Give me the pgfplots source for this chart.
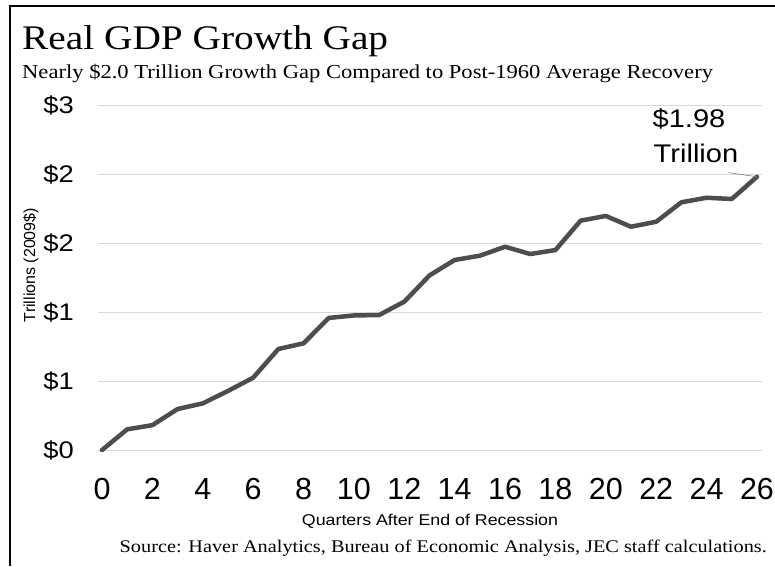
\documentclass[border=0pt]{standalone}
\usepackage{fontspec}
\setmainfont{Liberation Sans}[FakeStretch=1.14]
\newfontfamily\serif{Liberation Serif}[FakeStretch=1.14]
\newfontfamily\plainsans{Liberation Sans}
\usepackage{pgfplots}
\pgfplotsset{compat=1.18}
\definecolor{lineclr}{HTML}{4D4D4D}
\definecolor{gridclr}{HTML}{D9D9D9}
\begin{document}
\begin{tikzpicture}
\useasboundingbox (0,0) rectangle (775pt,566pt);
% frame (left and top)
\draw[line width=2pt] (10pt,0pt) -- (10pt,560pt) -- (775pt,560pt);
% titles
\node[anchor=base west, inner sep=0pt, font=\serif\fontsize{34.5}{36}\selectfont] at (22pt,516pt) {Real GDP Growth Gap};
\node[anchor=base west, inner sep=0pt, font=\serif\fontsize{19.8}{22}\selectfont] at (22pt,487pt) {Nearly \$2.0 Trillion Growth Gap Compared to Post-1960 Average Recovery};
\node[anchor=base east, inner sep=0pt, font=\serif\fontsize{17.8}{20}\selectfont] at (767pt,14pt) {Source: Haver Analytics, Bureau of Economic Analysis, JEC staff calculations.};
% annotation text
\node[anchor=base, inner sep=0pt, font=\fontsize{25.5}{27}\selectfont] at (689pt,438pt) {\$1.98};
\node[anchor=base, inner sep=0pt, font=\fontsize{25.5}{27}\selectfont] at (696pt,404pt) {Trillion};
\begin{axis}[
    at={(98pt,116pt)}, anchor=south west,
    scale only axis,
    width=664pt, height=345pt,
    xmin=-0.16, xmax=26.2,
    ymin=0, ymax=2.5,
    xtick={0,2,...,26},
    ytick={0,0.5,1,1.5,2,2.5},
    yticklabels={\$0,\$1,\$1,\$2,\$2,\$3},
    axis line style={draw=none},
    tick style={draw=none},
    ymajorgrids,
    grid style={gridclr, line width=0.8pt},
    /pgf/number format/assume math mode=true,
    xticklabel style={font=\plainsans\fontsize{30.5}{31}\selectfont, anchor=north, inner sep=0pt, yshift=-28pt},
    yticklabel style={font=\fontsize{24}{24}\selectfont, anchor=east, inner sep=0pt, xshift=-24pt},
    xlabel={Quarters After End of Recession},
    ylabel={Trillions (2009\$)},
    every axis x label/.style={at={(axis description cs:0.5,0)}, anchor=center, yshift=-71pt, font=\fontsize{15.6}{17}\selectfont},
    every axis y label/.style={at={(axis description cs:-0.101,0.536)}, rotate=90, anchor=center, font=\plainsans\fontsize{16}{17}\selectfont},
    clip=false,
]
\addplot[lineclr, line width=4.5pt, line join=round, line cap=round] coordinates {
    (0,0) (1,0.150) (2,0.180) (3,0.297) (4,0.338) (5,0.428) (6,0.524)
    (7,0.732) (8,0.773) (9,0.957) (10,0.975) (11,0.978) (12,1.075)
    (13,1.265) (14,1.377) (15,1.408) (16,1.473) (17,1.420) (18,1.449)
    (19,1.662) (20,1.696) (21,1.618) (22,1.654) (23,1.795) (24,1.828)
    (25,1.819) (26,1.980)
};
% leader line to the label
\draw[gray, line width=0.6pt] (axis cs:24.85,2.01) -- (axis cs:26,1.98);
\end{axis}
\end{tikzpicture}
\end{document}
